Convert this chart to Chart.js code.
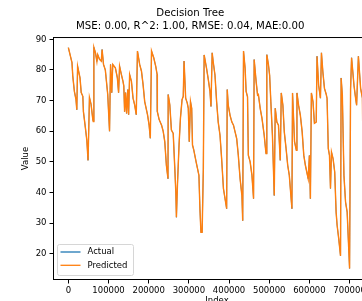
<!DOCTYPE html>
<html>
<head>
<meta charset="utf-8">
<script src="https://cdn.jsdelivr.net/npm/chart.js@4.4.0/dist/chart.umd.min.js"></script>
<style>
  html, body { margin: 0; padding: 0; background: #fff; overflow: hidden; }
  #wrap { width: 362px; height: 301px; overflow: hidden; position: relative; }
  canvas { position: absolute; left: 0; top: 0; }
</style>
</head>
<body>
<div id="wrap"><canvas id="treeChart" width="400" height="320"></canvas></div>
<script>
// values (index, value)
const indexValues = [
  0, 9000, 11000, 15000, 19000, 21000, 23000, 29000, 32000, 36000, 37500, 42500, 46000, 49000,
  52500, 56500, 61000, 62000, 63500, 67500, 71000, 73000, 77500, 82000, 84000, 87500, 92000,
  98000, 102500, 105000, 108000, 110500, 117000, 122000, 125000, 127500, 132000, 136000, 138000,
  140000, 142500, 145000, 148000, 150000, 152500, 157000, 161000, 165000, 169000, 172000, 177500,
  182000, 186000, 190000, 197000, 201000, 204000, 207000, 212500, 217500, 221000, 221500, 226000,
  232000, 236000, 240000, 244000, 248000, 248500, 252500, 256500, 261000, 265000, 267500, 269000,
  271500, 275500, 279000, 283000, 286000, 288000, 292000, 296000, 298500, 301000, 304000, 307000,
  309000, 312000, 318000, 325000, 327500, 330000, 333000, 336000, 338000, 344000, 348000, 352500,
  355000, 358000, 360500, 365000, 369000, 373000, 377500, 381500, 386000, 390000, 394000, 395500,
  398000, 402500, 407000, 411000, 415000, 419000, 423000, 427500, 432000, 434000, 436000, 440000,
  442500, 446000, 448000, 452500, 457000, 461000, 462500, 467500, 471000, 473000, 477500, 482000,
  487500, 492000, 494000, 498000, 501000, 504000, 508000, 512500, 515000, 519000, 523000, 527500,
  530000, 534000, 537500, 542000, 546000, 550000, 556500, 558000, 563000, 567500, 569000, 573000,
  577500, 582000, 586000, 590000, 597000, 600000, 602500, 605000, 609000, 612500, 617000, 619000,
  623000, 627500, 630000, 633500, 637500, 642000, 644000, 647000, 650000, 652500, 655000, 659000,
  663000, 666500, 669000, 673000, 677500, 679000, 682000, 686000, 690000, 694000, 700000, 702500,
  705000, 711000, 715000, 717500, 722000, 727500, 732000, 736000, 740000
];
const actualValues = [
  87.3, 82.4, 78, 73, 70.3, 67, 81.2, 77.4, 72.6, 71.4, 66.4, 61, 57, 50.5,
  71, 68.8, 63.7, 63.2, 87.4, 85.6, 82.8, 85, 83.5, 82.9, 86.7, 81.8, 80,
  72, 60, 81.8, 72.6, 81.8, 80.7, 77.4, 72.6, 81.2, 78.5, 76.3, 74.8,
  66.4, 72.6, 65.8, 73.6, 65.4, 78.5, 76.3, 70.8, 68.6, 65.4, 86.2, 81.8,
  79.6, 75.2, 69.7, 65.4, 62, 57.7, 86.2, 84, 81.2, 78.5, 66.4, 63.8,
  62, 60, 56.6, 48.9, 44.5, 72, 68.6, 60.4, 59.3, 47.8, 40.1, 31.9,
  42.3, 55.5, 64.3, 70.3, 71.4, 82.9, 70.8, 69.2, 67.5, 56.6, 69.7, 67.5,
  55.5, 54, 50, 45.6, 34.7, 27, 27, 47.8, 84.9, 80.5, 77.2, 73,
  68.1, 85.6, 82.7, 78.3, 69.7, 63, 58.7, 51.1, 41.3, 38, 34.7, 73.6,
  68.5, 65.2, 63, 62, 59.8, 57.6, 52.2, 44.5, 39, 30.8, 86.2, 80.5,
  73, 71.2, 52.2, 50, 45.6, 38, 83.4, 76.1, 71.8, 72, 67.5, 64.2,
  58.7, 52.7, 85, 81.8, 78.3, 69.7, 58.7, 39, 67.5, 63, 62, 50.5,
  72.5, 68.5, 59.8, 54.3, 48.9, 45.6, 34.7, 72.5, 56.6, 53.8, 72.5, 68.5,
  65.2, 59.8, 52.2, 48.9, 44.5, 52.1, 38, 72.5, 69.6, 62.6, 63, 84.5,
  75, 70.8, 85.6, 79.4, 74, 72, 70.7, 54.4, 52.1, 41.3, 53.2, 51,
  46.7, 33.6, 29.3, 24.9, 19.3, 77.4, 71.8, 45.6, 36.9, 33.6, 15.2, 73.6,
  84, 75, 70.8, 68.5, 84.5, 74, 70.8, 22, 35
];
const predictedValues = [
  87.3, 82.4, 78, 73, 70.3, 67, 81.2, 77.4, 72.6, 71.4, 66.4, 61, 57, 50.5,
  71, 68.8, 63.7, 63.2, 87.4, 85.6, 82.8, 85, 83.5, 82.9, 86.7, 81.8, 80,
  72, 60, 81.8, 72.6, 81.8, 80.7, 77.4, 72.6, 81.2, 78.5, 76.3, 74.8,
  66.4, 72.6, 65.8, 73.6, 65.4, 78.5, 76.3, 70.8, 68.6, 65.4, 86.2, 81.8,
  79.6, 75.2, 69.7, 65.4, 62, 57.7, 86.2, 84, 81.2, 78.5, 66.4, 63.8,
  62, 60, 56.6, 48.9, 44.5, 72, 68.6, 60.4, 59.3, 47.8, 40.1, 31.9,
  42.3, 55.5, 64.3, 70.3, 71.4, 82.9, 70.8, 69.2, 67.5, 56.6, 69.7, 67.5,
  55.5, 54, 50, 45.6, 34.7, 27, 27, 47.8, 84.9, 80.5, 77.2, 73,
  68.1, 85.6, 82.7, 78.3, 69.7, 63, 58.7, 51.1, 41.3, 38, 34.7, 73.6,
  68.5, 65.2, 63, 62, 59.8, 57.6, 52.2, 44.5, 39, 30.8, 86.2, 80.5,
  73, 71.2, 52.2, 50, 45.6, 38, 83.4, 76.1, 71.8, 72, 67.5, 64.2,
  58.7, 52.7, 85, 81.8, 78.3, 69.7, 58.7, 39, 67.5, 63, 62, 50.5,
  72.5, 68.5, 59.8, 54.3, 48.9, 45.6, 34.7, 72.5, 56.6, 53.8, 72.5, 68.5,
  65.2, 59.8, 52.2, 48.9, 44.5, 52.1, 38, 72.5, 69.6, 62.6, 63, 84.5,
  75, 70.8, 85.6, 79.4, 74, 72, 70.7, 54.4, 52.1, 41.3, 53.2, 51,
  46.7, 33.6, 29.3, 24.9, 19.3, 77.4, 71.8, 45.6, 36.9, 33.6, 15.2, 73.6,
  84, 75, 70.8, 68.5, 84.5, 74, 70.8, 22, 35
];
const xTicks = [0, 100000, 200000, 300000, 400000, 500000, 600000, 700000];
const yTicks = [20, 30, 40, 50, 60, 70, 80, 90];
const chartTitle = ['Decision Tree', 'MSE: 0.00, R^2: 1.00, RMSE: 0.04, MAE:0.00'];

const font = 'DejaVu Sans';

function toPoints(xs, ys) {
  return xs.map((x, i) => ({ x: x, y: ys[i] }));
}

// axes box and the legend inside the plot, like matplotlib
const boxAndLegend = {
  id: 'boxAndLegend',
  afterDatasetsDraw(chart) {
    const ctx = chart.ctx;
    const a = chart.chartArea;
    ctx.save();
    ctx.strokeStyle = '#000';
    ctx.lineWidth = 1;
    ctx.strokeRect(a.left, a.top, a.right - a.left, a.bottom - a.top);

    const bx = a.left + 4, by = a.bottom - 35, bw = 76, bh = 31;
    ctx.beginPath();
    ctx.roundRect(bx, by, bw, bh, 2);
    ctx.fillStyle = 'rgba(255,255,255,0.8)';
    ctx.fill();
    ctx.strokeStyle = '#d6d6d6';
    ctx.lineWidth = 1;
    ctx.stroke();

    ctx.font = '8.5px "' + font + '"';
    ctx.textBaseline = 'middle';
    chart.data.datasets.forEach((ds, i) => {
      const y = by + 7.5 + i * 13.3;
      ctx.beginPath();
      ctx.moveTo(bx + 3, y);
      ctx.lineTo(bx + 23, y);
      ctx.strokeStyle = ds.borderColor;
      ctx.lineWidth = 1.3;
      ctx.stroke();
      ctx.fillStyle = '#000';
      ctx.fillText(ds.label, bx + 30, y);
    });
    ctx.restore();
  }
};

new Chart(document.getElementById('treeChart'), {
  type: 'line',
  data: {
    datasets: [{
      label: 'Actual',
      data: toPoints(indexValues, actualValues),
      borderColor: '#1f77b4',
      borderWidth: 0.8,
      pointRadius: 0,
      tension: 0,
      order: 2
    }, {
      label: 'Predicted',
      data: toPoints(indexValues, predictedValues),
      borderColor: '#ff7f0e',
      borderWidth: 1.4,
      pointRadius: 0,
      tension: 0,
      order: 1
    }]
  },
  options: {
    responsive: false,
    animation: false,
    devicePixelRatio: 1,
    layout: { padding: { top: 0, left: 0, right: 19.5, bottom: 0 } },
    plugins: {
      legend: { display: false },
      tooltip: { enabled: false },
      title: {
        display: true,
        text: chartTitle,
        color: '#000',
        font: { family: font, size: 10.2, weight: 'normal', lineHeight: 1.3 },
        padding: { top: 6.7, bottom: 4.3 }
      }
    },
    scales: {
      x: {
        type: 'linear',
        min: -37000,
        max: 777000,
        afterBuildTicks: s => { s.ticks = xTicks.map(v => ({ value: v })); },
        afterFit: s => { s.height = 40.5; },
        grid: { drawOnChartArea: false, drawTicks: true, tickLength: 4, color: '#000' },
        border: { display: false },
        ticks: { color: '#000', padding: 2, maxRotation: 0, callback: v => String(v), font: { family: font, size: 8.5 } },
        title: { display: true, text: 'Index', color: '#000', padding: { top: 0, bottom: 14.4 }, font: { family: font, size: 8.5 } }
      },
      y: {
        min: 11.6,
        max: 90.6,
        afterBuildTicks: s => { s.ticks = yTicks.map(v => ({ value: v })); },
        afterFit: s => { s.width = 53.5; },
        grid: { drawOnChartArea: false, drawTicks: true, tickLength: 4, color: '#000' },
        border: { display: false },
        ticks: { color: '#000', padding: 3, callback: v => String(v), font: { family: font, size: 8.5 } },
        title: { display: true, text: 'Value', color: '#000', padding: { top: 21, bottom: 0 }, font: { family: font, size: 8.5 } }
      }
    }
  },
  plugins: [boxAndLegend]
});
</script>
</body>
</html>
